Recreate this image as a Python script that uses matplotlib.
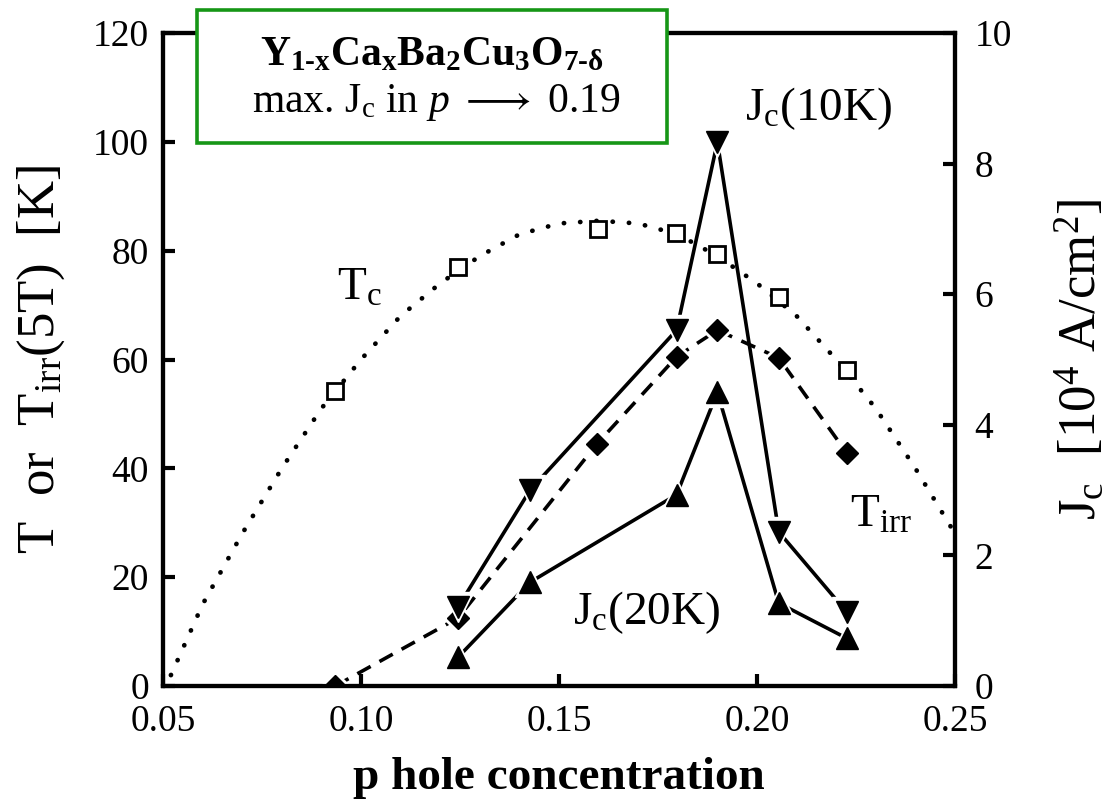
import matplotlib
matplotlib.use("Agg")
import matplotlib.pyplot as plt
from matplotlib.patches import Rectangle

plt.rcParams['font.family'] = ['Liberation Serif', 'DejaVu Serif']
plt.rcParams['mathtext.fontset'] = 'custom'
plt.rcParams['mathtext.rm'] = 'Liberation Serif'
plt.rcParams['mathtext.it'] = 'Liberation Serif:italic'
plt.rcParams['mathtext.bf'] = 'Liberation Serif:bold'

# Tc: measured points and the dome curve through them
tc_p = [0.0935, 0.1245, 0.1598, 0.1795, 0.1900, 0.2055, 0.2227]
tc_T = [54.3, 77.0, 84.0, 83.2, 79.4, 71.5, 58.1]
dome_p = [0.052, 0.06, 0.07, 0.08, 0.09, 0.10, 0.11, 0.12, 0.13, 0.14, 0.15,
          0.16, 0.17, 0.18, 0.19, 0.20, 0.21, 0.22, 0.23, 0.24, 0.25]
dome_T = [2, 15, 28, 40, 51, 60, 68, 74, 79, 83, 85,
          85.5, 85, 83, 79, 74, 68, 60, 51, 40, 28]

# irreversibility temperature at 5 T
tirr_p = [0.0935, 0.1245, 0.1596, 0.1797, 0.1900, 0.2055, 0.2227]
tirr_T = [0.0, 12.5, 44.5, 60.5, 65.4, 60.3, 42.8]

# critical current density, 10^4 A/cm^2
jc_p = [0.1245, 0.1427, 0.1797, 0.1900, 0.2055, 0.2227]
jc10 = [1.21, 3.00, 5.45, 8.33, 2.36, 1.13]
jc20 = [0.44, 1.59, 2.93, 4.50, 1.27, 0.73]

x_ticks = [0.05, 0.10, 0.15, 0.20, 0.25]
x_ticklabels = ['0.05', '0.10', '0.15', '0.20', '0.25']
left_ticks = [0, 20, 40, 60, 80, 100, 120]
right_ticks = [0, 2, 4, 6, 8, 10]

HYPH = '\u2010'
compound = '$\\mathbf{Y_{1' + HYPH + 'x}Ca_{x}Ba_{2}Cu_{3}O_{7' + HYPH + '\\delta}}$'
note = r'max. J$_{\mathrm{c}}$ in $p$ $\longrightarrow$ 0.19'

SPINE_LW = 3.0
LW = 2.6
fig = plt.figure(figsize=(11.08, 8.05), dpi=100)
ax = fig.add_axes([0.1471, 0.1478, 0.7148, 0.8112])
ax2 = ax.twinx()

ax.set_xlim(0.05, 0.25)
ax.set_ylim(0, 120)
ax2.set_ylim(0, 10)

# Tc dome (dotted) with open squares
ax.plot(dome_p, dome_T, color='k', lw=3.4, linestyle=(0, (0.05, 3.4)),
        dash_capstyle='round', zorder=2)
ax.plot(tc_p, tc_T, ls='none', marker='s', ms=11.5, mfc='white', mec='k',
        mew=2.0, zorder=4)

# Tirr (dashed) with filled diamonds
ax.plot(tirr_p, tirr_T, color='k', lw=LW, linestyle=(0, (4.2, 2.8)), zorder=2)
ax.plot(tirr_p, tirr_T, ls='none', marker='D', ms=15, color='white', zorder=3)
ax.plot(tirr_p, tirr_T, ls='none', marker='D', ms=11.5, color='k', zorder=4)

# Jc at 10 K and 20 K on the right axis
ax2.plot(jc_p, jc10, color='k', lw=LW, zorder=2)
ax2.plot(jc_p, jc20, color='k', lw=LW, zorder=2)
ax2.plot(jc_p, jc10, ls='none', marker='v', ms=21, color='white', zorder=3)
ax2.plot(jc_p, jc20, ls='none', marker='^', ms=21, color='white', zorder=3)
ax2.plot(jc_p, jc10, ls='none', marker='v', ms=15.5, color='k', zorder=4)
ax2.plot(jc_p, jc20, ls='none', marker='^', ms=15.5, color='k', zorder=4)

# axes styling
ax.set_xticks(x_ticks)
ax.set_xticklabels(x_ticklabels)
ax.set_yticks(left_ticks)
ax2.set_yticks(right_ticks)
for a in (ax, ax2):
    for s in a.spines.values():
        s.set_linewidth(SPINE_LW)
ax.tick_params(axis='both', direction='in', length=8.5, width=SPINE_LW,
               labelsize=27, top=False, right=False)
ax.tick_params(axis='x', pad=13)
ax.tick_params(axis='y', pad=10)
ax2.tick_params(axis='y', direction='in', length=8.5, width=SPINE_LW,
                labelsize=27, pad=14)

ax.set_xlabel('p hole concentration', fontsize=34, fontweight='bold', labelpad=13)
ax.set_ylabel(r'T  or  T$_{\mathrm{irr}}$(5T)  [K]', fontsize=38, labelpad=19)
ax2.set_ylabel(r'J$_{\mathrm{c}}$  [10$^{4}$ A/cm$^{2}$]', fontsize=38,
               rotation=90, labelpad=30)

# curve labels
ax.text(0.0939, 70.9, r'T$_{\mathrm{c}}$', fontsize=34, ha='left', va='baseline')
ax.text(0.1970, 104.0, r'J$_{\mathrm{c}}$(10K)', fontsize=34, ha='left', va='baseline')
ax.text(0.2235, 29.2, r'T$_{\mathrm{irr}}$', fontsize=34, ha='left', va='baseline')
ax.text(0.1535, 11.3, r'J$_{\mathrm{c}}$(20K)', fontsize=34, ha='left', va='baseline')

# compound box
W, H = 1108.0, 805.0
box = Rectangle((197 / W, 1 - 143 / H), (667 - 197) / W, (143 - 10) / H,
                transform=fig.transFigure, facecolor='white', edgecolor='#169616',
                lw=2.6, zorder=5)
fig.add_artist(box)
fig.text(432 / W, 1 - 55 / H, compound,
         fontsize=30, ha='center', va='center', zorder=6)
fig.text(436 / W, 1 - 102 / H, note,
         fontsize=30, ha='center', va='center', zorder=6)

fig.savefig('out.png', dpi=100)
